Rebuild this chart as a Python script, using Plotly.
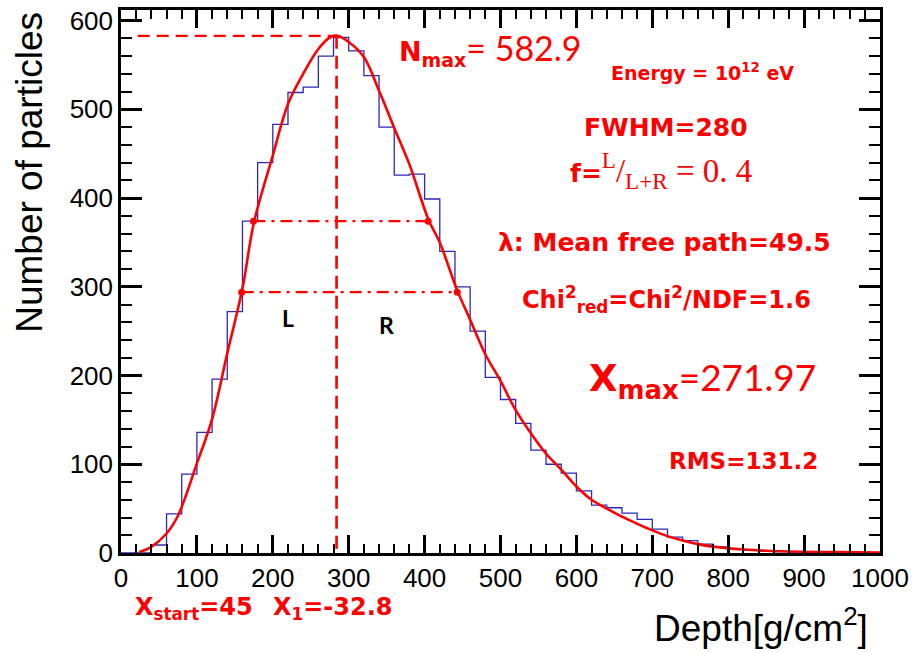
import plotly.graph_objects as go

# ---------------- data ----------------
bin_edges = list(range(0, 1001, 20))
counts = [0, 0, 9, 44, 89, 136, 196, 272, 374, 440,
          483, 519, 525, 560, 581, 566, 538, 480, 426, 427,
          399, 340, 300, 250, 198, 173, 146, 116, 100, 90,
          70, 54, 51, 45, 38, 27, 18, 14, 10, 7,
          5, 3, 2, 1.5, 1, 1, 0.5, 0.5, 0.3, 0.2]

fit_x = [24, 40, 60, 75, 100, 120, 140, 160, 175, 200, 220, 240, 260, 275, 285,
         300, 320, 340, 360, 380, 405, 420, 443, 460, 480, 500, 520, 540, 560,
         580, 600, 620, 640, 660, 680, 700, 720, 740, 760, 780, 820, 870, 940, 1000]
fit_y = [1, 7, 22, 42, 101, 151, 225, 298, 372, 448, 506, 540, 568, 581, 583,
         576, 559, 521, 479, 438, 376, 350, 296, 263, 224, 194, 161, 135, 112,
         94, 75, 60, 50, 41, 33, 25.5, 19, 14, 10, 7.2, 4, 2, 1, 0.5]

nmax_line_x = [22, 284]
nmax_level = 582.9
xmax_line_x = 284
level_a = 374
level_a_x = [174.5, 404.7]
level_b = 294
level_b_x = [159, 443]

x_ticks = [0, 100, 200, 300, 400, 500, 600, 700, 800, 900, 1000]
y_ticks = [0, 100, 200, 300, 400, 500, 600]

# ---------------- figure ----------------
W, H = 918, 653
L_, R_, T_, B_ = 121, 38, 6, 100
pw, ph = W - L_ - R_, H - T_ - B_


def P(px, py):
    return (px - L_) / pw, (H - B_ - py) / ph


fig = go.Figure()

# histogram outline
fig.add_trace(go.Scatter(
    x=bin_edges, y=counts + [counts[-1]], mode="lines", line_shape="hv",
    line=dict(color="#2a2ab8", width=1.3), hoverinfo="skip", showlegend=False))

# fit curve
fig.add_trace(go.Scatter(
    x=fit_x, y=fit_y, mode="lines", line_shape="spline",
    line=dict(color="#ff0000", width=2.6, smoothing=1.0),
    hoverinfo="skip", showlegend=False))

RED = "#ff0000"
# Nmax dashed horizontal
fig.add_trace(go.Scatter(x=nmax_line_x, y=[nmax_level, nmax_level], mode="lines",
                         line=dict(color=RED, width=2.2, dash="12px,7px"),
                         hoverinfo="skip", showlegend=False))
# Xmax dashed vertical
fig.add_trace(go.Scatter(x=[xmax_line_x, xmax_line_x], y=[nmax_level, 0], mode="lines",
                         line=dict(color=RED, width=2.6, dash="13px,7px"),
                         hoverinfo="skip", showlegend=False))
# dash-dot levels
for lx, lv in ((level_a_x, level_a), (level_b_x, level_b)):
    fig.add_trace(go.Scatter(x=lx, y=[lv, lv], mode="lines+markers",
                             line=dict(color=RED, width=2.2, dash="12px,6px,3px,6px"),
                             marker=dict(color=RED, size=7),
                             hoverinfo="skip", showlegend=False))

axis_common = dict(showline=True, linecolor="black", linewidth=2.5, mirror="allticks",
                   ticks="inside", tickcolor="black", tickwidth=2.5,
                   showgrid=False, zeroline=False,
                   tickfont=dict(family="Liberation Sans", size=26, color="black"))

fig.update_xaxes(range=[0, 1000], tickvals=x_ticks, ticklen=18,
                 minor=dict(ticks="inside", ticklen=9, dtick=20, tickwidth=2, tickcolor="black",
                            showgrid=False),
                 **axis_common)
fig.update_yaxes(range=[0, 612], tickvals=y_ticks, ticklen=21,
                 minor=dict(ticks="inside", ticklen=11, dtick=20, tickwidth=2, tickcolor="black",
                            showgrid=False),
                 **axis_common)

ann = []


def add(text, px, py, size, anchor="center", color=RED, family="DejaVu Sans", angle=0):
    x, y = P(px, py)
    ann.append(dict(text=text, x=x, y=y, xref="paper", yref="paper", showarrow=False,
                    xanchor=anchor, yanchor="middle", textangle=angle,
                    font=dict(family=family, size=size, color=color)))


add("<b>N<sub>max</sub></b><span style='font-family:Lato;font-size:34px'>= 582.9</span>",
    397, 45, 27, anchor="left")
add("<b>Energy = 10<sup>12</sup> eV</b>", 702, 68, 19)
add("<b>FWHM=280</b>", 666, 124, 25)
add("<b>f=</b><span style='font-family:Liberation Serif;font-size:33px'>"
    "<sup>L</sup>/<sub>L+R</sub> = 0. 4</span>", 568, 168, 25, anchor="left")
add("<b>λ: Mean free path=49.5</b>", 664, 240, 25)
add("<b>Chi<sup>2</sup><sub>red</sub>=Chi<sup>2</sup>/NDF=1.6</b>", 666, 298, 24)
add("<b>X<sub>max</sub></b><span style='font-family:Lato;font-size:37px'>=271.97</span>",
    587, 378, 37, anchor="left")
add("<b>RMS=131.2</b>", 743, 460, 23)
add("<b>X<sub>start</sub>=45</b>", 133, 609, 24, anchor="left")
add("<b>X<sub>1</sub>=-32.8</b>", 271, 609, 24, anchor="left")
add("<b>L</b>", 288, 316, 23, color="black", family="Lato")
add("<b>R</b>", 386, 323, 23, color="black", family="Lato")
add("Depth[g/cm<sup>2</sup>]", 870, 626, 37, anchor="right", color="black",
    family="Liberation Sans")
add("Number of particles", 30, 170, 37, color="black", family="Liberation Sans", angle=-90)

fig.update_layout(width=W, height=H, margin=dict(l=L_, r=R_, t=T_, b=B_),
                  paper_bgcolor="white", plot_bgcolor="white", annotations=ann,
                  showlegend=False)

fig.write_html("out.html")
